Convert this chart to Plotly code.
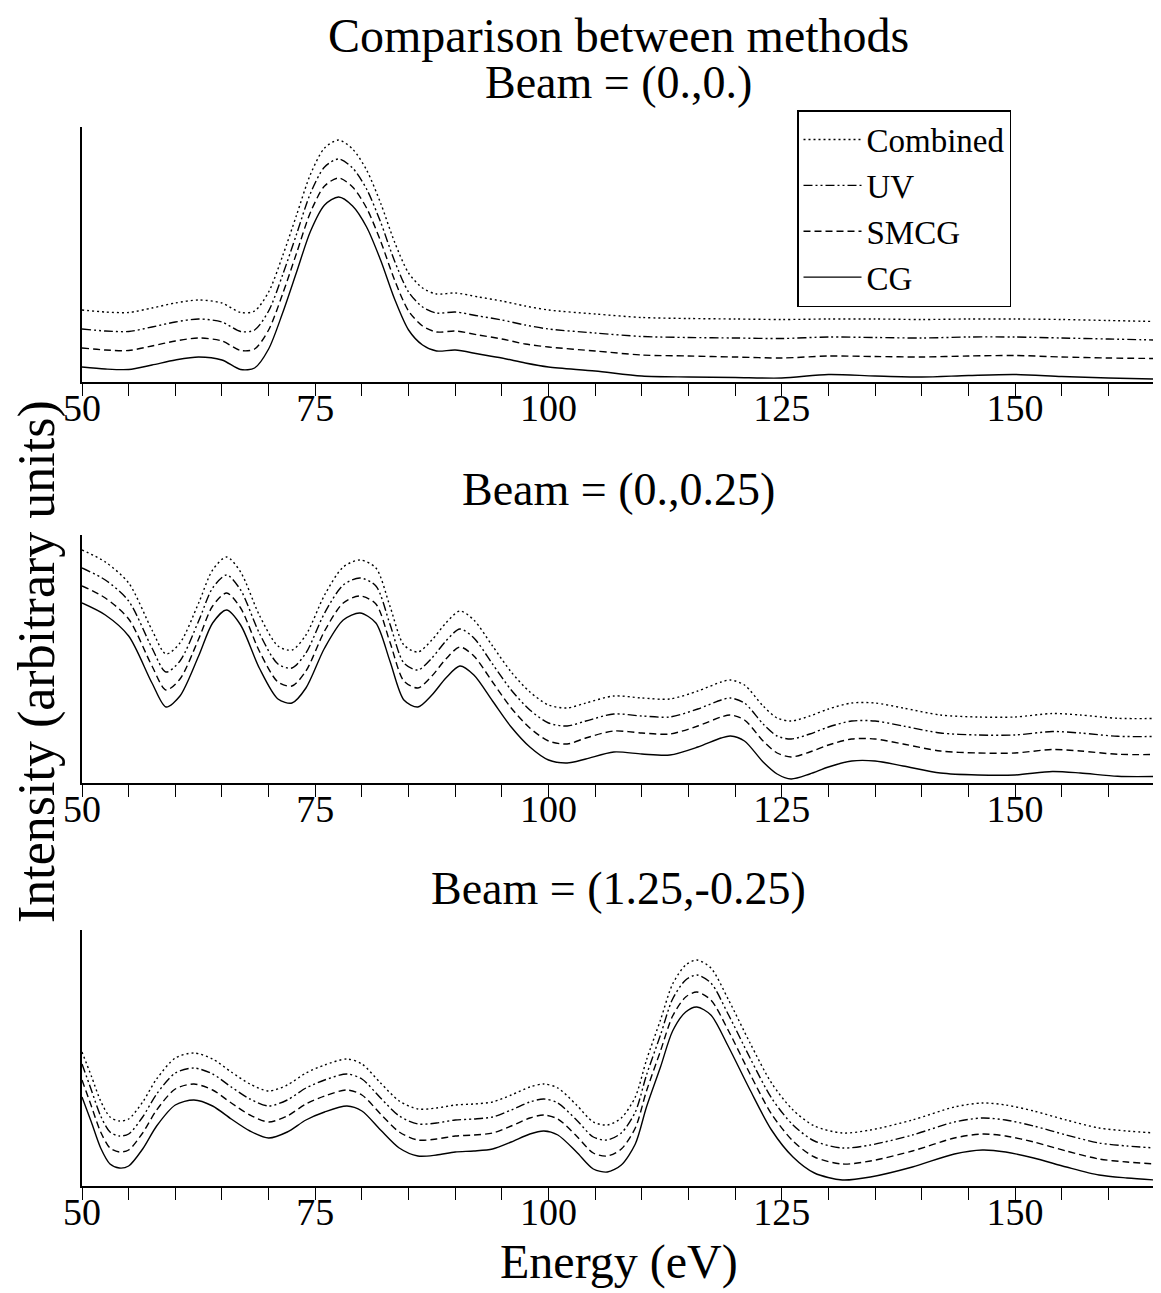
import plotly.graph_objects as go

# ---------------- data (intensity, arbitrary units, curves offset for display) -------------
methods = ["Combined", "UV", "SMCG", "CG"]
panel_titles = ["Beam = (0.,0.)", "Beam = (0.,0.25)", "Beam = (1.25,-0.25)"]
label_vals = [50, 75, 100, 125, 150]
label_text = ["50", "75", "100", "125", "150"]
tick_vals = [50, 55, 60, 65, 70, 75, 80, 85, 90, 95, 100, 105, 110, 115, 120, 125,
             130, 135, 140, 145, 150, 155, 160, 165]

# Panel 1: Beam = (0.,0.)
p1_energy = [50, 52.5, 55, 57.5, 60, 62.5, 65, 67, 68.5, 70, 71.5, 73, 74.5, 76, 77.5, 79,
             80.5, 82, 83.5, 85, 86.5, 88, 90, 92.5, 95, 97.5, 100, 105, 110, 115, 120, 125,
             130, 135, 140, 145, 150, 155, 160, 165]
p1_cg = [15, 13, 12.5, 17, 22, 25, 22, 12.5, 14, 33, 69, 110, 151, 177, 185, 176, 155, 122,
         83, 52, 37, 31, 32, 28, 24, 19, 15, 11, 6, 5, 4.5, 4, 7.5, 6, 5, 6.5, 7.5, 5.5, 4, 3]
p1_smcg = [34, 32, 31.5, 36, 41, 44, 41, 31.5, 33, 52, 88, 129, 170, 196, 204, 195, 174, 141,
           102, 71, 56, 50, 51, 47, 43, 38, 35, 31, 27, 26, 25, 24, 26, 25.5, 25, 26, 26.5,
           25, 24, 23.5]
p1_uv = [53, 51, 50.5, 55, 60, 63, 60, 50.5, 52, 71, 107, 148, 189, 215, 223, 214, 193, 160,
         121, 90, 75, 69, 70, 66, 62, 57, 53, 49, 45.5, 44.5, 44, 43.5, 45, 44.5, 44, 45, 45,
         44, 43, 42]
p1_combined = [72, 70, 69.5, 74, 79, 82, 79, 69.5, 71, 90, 126, 167, 208, 234, 242, 233, 212,
               179, 140, 109, 94, 88, 89, 85, 81, 76, 72, 68, 64.5, 63.5, 63, 62.5, 63, 63,
               62.5, 63, 63, 62.5, 61.5, 60.5]

# Panel 2: Beam = (0.,0.25)
p2_energy = [50, 52.5, 55, 57.5, 59, 60.5, 62.5, 64, 65.5, 67, 69, 71, 72.5, 74, 76, 78,
             79.8, 81.5, 83, 84.5, 86, 87.5, 89, 90.5, 92, 94, 96, 98, 100, 102, 104, 107,
             110, 113, 116, 118.5, 119.5, 121, 123, 124.5, 126, 128, 130, 132.5, 135, 138,
             142, 146, 150, 154, 157, 161, 165]
p2_cg = [180, 168, 147, 100, 76, 87, 127, 160, 173, 158, 115, 84, 80, 95, 135, 163, 170, 160,
         122, 83, 76, 88, 105, 117, 108, 82, 56, 36, 23, 20, 24, 31, 29, 28, 36, 45, 47, 42,
         21, 9, 4, 9, 16, 22, 22, 17, 10, 8, 8, 11.5, 10, 6.7, 6.5]
p2_smcg = [197, 185, 164, 117, 93, 104, 144, 177, 190, 175, 132, 101, 97, 112, 152, 180, 187,
           179, 141, 102, 95, 107, 124, 136, 127, 101, 75, 55, 42, 39, 45, 52, 50, 49, 57,
           66, 68, 63, 42, 30, 26, 31, 38, 44, 44, 39, 32, 30, 30, 33.5, 32, 28.7, 28.5]
p2_uv = [215, 203, 182, 135, 111, 122, 162, 195, 208, 193, 150, 119, 115, 130, 170, 198, 205,
         197, 159, 120, 113, 125, 142, 154, 145, 119, 93, 73, 60, 57, 62, 69, 67, 66, 74, 83,
         85, 80, 59, 47, 44, 49, 56, 62, 62, 57, 50, 48, 48, 51.5, 50, 46.7, 46.5]
p2_combined = [233, 221, 200, 153, 129, 140, 180, 213, 226, 211, 168, 137, 133, 148, 188,
               216, 223, 215, 177, 138, 131, 143, 160, 172, 163, 137, 111, 91, 78, 75, 80,
               87, 85, 84, 92, 101, 103, 98, 77, 65, 62, 67, 74, 80, 80, 75, 68, 66, 66,
               69.5, 68, 64.7, 64.5]

# Panel 3: Beam = (1.25,-0.25)
p3_energy = [50, 51, 52, 53, 54, 55, 56.5, 58, 60, 62, 64, 66, 68, 70, 72, 74, 76, 78.4, 80,
             82, 84, 86, 88, 90, 92, 94, 96, 98, 99.5, 101, 103, 104.8, 106.3, 107.8, 109.3,
             110.5, 112, 113.3, 114.7, 115.9, 117.4, 119.3, 121.6, 123.9, 126.2, 128.5,
             131.5, 134.5, 139, 143.5, 146.5, 149, 152, 155.5, 159, 162, 165]
p3_cg = [89, 64, 38, 22, 18, 20, 37, 60, 81, 86, 80, 67, 55, 48, 54, 66, 74, 80, 75, 56, 38,
         30, 31, 34, 35, 37, 44, 52, 55, 51, 34, 17, 14, 21, 42, 79, 119, 155, 174, 179, 171,
         139, 96, 56, 29, 13, 6, 9, 19, 32, 36, 34, 28, 19, 11, 8, 6]
p3_smcg = [106, 80, 54, 38, 34, 36, 53, 76, 97, 102, 96, 83, 71, 64, 70, 82, 90, 96, 91, 72,
           54, 46, 47, 50, 51, 53, 60, 68, 71, 67, 50, 33, 30, 37, 58, 95, 135, 170, 189,
           194, 186, 155, 112, 72, 45, 29, 22, 25, 35, 48, 52, 50, 44, 35, 27, 24, 22]
p3_uv = [122, 96, 70, 54, 50, 52, 69, 92, 113, 118, 112, 99, 87, 80, 86, 98, 106, 112, 107,
         88, 70, 62, 63, 66, 67, 69, 76, 84, 87, 83, 66, 49, 46, 53, 74, 111, 151, 187, 206,
         211, 203, 171, 128, 88, 61, 45, 38, 41, 51, 64, 68, 66, 60, 51, 43, 40, 38]
p3_combined = [134, 110, 85, 69, 65, 67, 84, 107, 128, 133, 127, 114, 102, 95, 101, 113, 121,
               127, 122, 103, 85, 77, 78, 81, 82, 84, 91, 99, 102, 98, 81, 64, 61, 68, 89,
               126, 166, 202, 221, 226, 218, 186, 143, 103, 76, 60, 53, 56, 66, 79, 83, 81,
               75, 66, 58, 55, 53]

panels = [
    (p1_energy, [p1_combined, p1_uv, p1_smcg, p1_cg]),
    (p2_energy, [p2_combined, p2_uv, p2_smcg, p2_cg]),
    (p3_energy, [p3_combined, p3_uv, p3_smcg, p3_cg]),
]

# ---------------- styling ----------------
FONT = "Liberation Serif"
dashes = {"Combined": "2px,3px", "UV": "9px,3px,2px,3px,2px,3px", "SMCG": "7px,4px",
          "CG": "solid"}

OFF = 8                      # default page body margin of the html page
W, H = 1161 - OFF, 1293 - OFF
ML, MR, MT, MB = 82 - OFF, 6, 127 - OFF, 107
PH = H - MT - MB
PW = W - ML - MR


def py(pix):  # page pixel row -> paper fraction
    return (H - MB - (pix - OFF)) / PH


def px(pix):  # page pixel column -> paper fraction
    return (pix - OFF - ML) / PW


panel_px = [(127, 382), (535, 783), (930, 1186)]

fig = go.Figure()
for i, (energy, series) in enumerate(panels):
    base_ax = "" if i == 0 else str(i + 1)
    lab_ax = str(i + 4)
    for name, vals in zip(methods, series):
        # the solid CG curve sits on the tick-mark axis, the others on the labelled
        # overlay axis (identical ranges) so that both axes get drawn
        xa = "x" + (base_ax if name == "CG" else lab_ax)
        fig.add_trace(go.Scatter(
            x=energy, y=vals, mode="lines", name=name,
            line=dict(color="black", width=1.4, dash=dashes[name], shape="spline",
                      smoothing=0.8),
            showlegend=(i == 0), xaxis=xa, yaxis="y" + base_ax,
        ))

layout = dict(
    width=W, height=H, paper_bgcolor="white", plot_bgcolor="white",
    margin=dict(l=ML, r=MR, t=MT, b=MB, pad=0, autoexpand=False),
    font=dict(family=FONT, color="black", size=38),
    showlegend=True,
    legend=dict(x=px(797), y=py(110), xanchor="left", yanchor="top",
                bgcolor="white", bordercolor="black", borderwidth=1.5,
                font=dict(family=FONT, size=33, color="black"),
                itemwidth=58, tracegroupgap=0, traceorder="normal"),
)
annotations = [
    dict(text="Comparison between methods", x=0.5, y=py(35), xref="paper", yref="paper",
         showarrow=False, xanchor="center", yanchor="middle",
         font=dict(family=FONT, size=48, color="black")),
    dict(text="Energy (eV)", x=0.5, y=py(1262), xref="paper", yref="paper",
         showarrow=False, xanchor="center", yanchor="middle",
         font=dict(family=FONT, size=48, color="black")),
    dict(text="Intensity (arbitrary units)", x=px(37), y=py(662), xref="paper",
         yref="paper", showarrow=False, xanchor="center", yanchor="middle", textangle=-90,
         font=dict(family=FONT, size=52, color="black")),
]
title_px = [82, 490, 888]
for i, ((top, bot), t) in enumerate(zip(panel_px, panel_titles)):
    ax = "" if i == 0 else str(i + 1)
    lab_ax = str(i + 4)
    # base axis: line + tick marks every 5 eV
    layout["xaxis" + ax] = dict(
        domain=[0, 1], range=[50, 165], anchor="y" + ax, automargin=False,
        showline=True, linecolor="black", linewidth=1.5, mirror=False,
        showgrid=False, zeroline=False,
        tickmode="array", tickvals=tick_vals, showticklabels=False,
        ticks="outside", ticklen=12, tickwidth=1.4, tickcolor="black",
    )
    # overlaid axis carrying the tick labels
    layout["xaxis" + lab_ax] = dict(
        domain=[0, 1], range=[50, 165], anchor="y" + ax, overlaying="x" + ax,
        side="bottom", automargin=False, showline=False, showgrid=False, zeroline=False,
        tickmode="array", tickvals=label_vals, ticktext=label_text, ticks="",
        tickfont=dict(family=FONT, size=38, color="black"),
    )
    layout["yaxis" + ax] = dict(
        domain=[py(bot), py(top)], range=[0, bot - top], anchor="x" + ax, automargin=False,
        showline=True, linecolor="black", linewidth=1.5,
        showgrid=False, zeroline=False, showticklabels=False, ticks="",
    )
    annotations.append(dict(text=t, x=0.5, y=py(title_px[i]), xref="paper", yref="paper",
                            showarrow=False, xanchor="center", yanchor="middle",
                            font=dict(family=FONT, size=46, color="black")))
layout["annotations"] = annotations
fig.update_layout(**layout)
fig.write_html("out.html")
